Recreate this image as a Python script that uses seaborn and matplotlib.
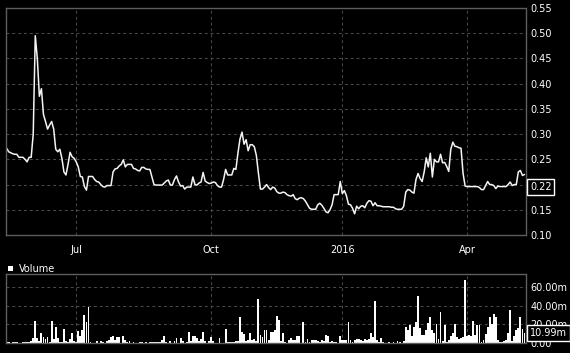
import numpy as np
import pandas as pd
import seaborn as sns
import matplotlib.pyplot as plt
import matplotlib.transforms as mtransforms
from matplotlib.patches import Rectangle

# trading calendar (ASX holidays skipped)
holidays = ['2015-06-08', '2015-12-25', '2015-12-28', '2016-01-01',
            '2016-01-26', '2016-03-25', '2016-03-28', '2016-04-25']
dates = pd.bdate_range('2015-05-13', '2016-05-12', freq='C', holidays=holidays)

# daily close
price = [
    0.272, 0.265, 0.263, 0.261, 0.26, 0.26, 0.254, 0.254, 0.254, 0.25, 0.245, 0.254, 0.254,
    0.30, 0.495, 0.45, 0.375, 0.39, 0.339, 0.325, 0.31, 0.318, 0.325, 0.31, 0.27, 0.265,
    0.27, 0.252, 0.225, 0.219, 0.24, 0.264, 0.255, 0.252, 0.245, 0.235, 0.216, 0.215, 0.196,
    0.189, 0.216, 0.216, 0.216, 0.21, 0.206, 0.205, 0.20, 0.196, 0.195, 0.198, 0.198, 0.198,
    0.225, 0.231, 0.232, 0.237, 0.24, 0.249, 0.235, 0.24, 0.24, 0.24, 0.232, 0.231, 0.228,
    0.227, 0.234, 0.234, 0.231, 0.23, 0.23, 0.215, 0.20, 0.199, 0.199, 0.199, 0.199, 0.203,
    0.207, 0.209, 0.199, 0.199, 0.21, 0.217, 0.205, 0.197, 0.198, 0.191, 0.195, 0.195, 0.195,
    0.215, 0.20, 0.199, 0.203, 0.205, 0.224, 0.207, 0.204, 0.202, 0.203, 0.205, 0.204, 0.198,
    0.195, 0.195, 0.21, 0.23, 0.219, 0.219, 0.219, 0.232, 0.23, 0.262, 0.29, 0.304, 0.28,
    0.289, 0.267, 0.279, 0.279, 0.275, 0.258, 0.223, 0.191, 0.191, 0.195, 0.20, 0.194, 0.19,
    0.195, 0.193, 0.186, 0.183, 0.183, 0.185, 0.184, 0.18, 0.178, 0.177, 0.18, 0.172, 0.17,
    0.173, 0.174, 0.172, 0.167, 0.16, 0.153, 0.151, 0.151, 0.151, 0.16, 0.163, 0.159, 0.153,
    0.146, 0.144, 0.15, 0.16, 0.18, 0.18, 0.18, 0.206, 0.182, 0.188, 0.178, 0.161, 0.16,
    0.153, 0.142, 0.157, 0.152, 0.157, 0.158, 0.154, 0.163, 0.168, 0.167, 0.158, 0.164, 0.158,
    0.158, 0.157, 0.156, 0.156, 0.156, 0.156, 0.155, 0.155, 0.152, 0.151, 0.151, 0.151, 0.157,
    0.185, 0.19, 0.189, 0.185, 0.183, 0.21, 0.222, 0.212, 0.206, 0.225, 0.253, 0.235, 0.262,
    0.215, 0.25, 0.245, 0.245, 0.26, 0.243, 0.244, 0.236, 0.226, 0.27, 0.284, 0.276, 0.275,
    0.273, 0.272, 0.222, 0.197, 0.196, 0.196, 0.196, 0.196, 0.196, 0.196, 0.194, 0.19, 0.19,
    0.198, 0.206, 0.20, 0.20, 0.198, 0.192, 0.197, 0.196, 0.196, 0.196, 0.196, 0.20, 0.205,
    0.198, 0.20, 0.20, 0.225, 0.228, 0.218, 0.22,
]

# daily volume, millions
volume = [
    1.0, 0.8, 0.3, 1.0, 1.0, 1.0, 0.5, 0.3, 1.0, 1.0, 1.0, 1.0, 2.0,
    5, 24, 5, 2, 11, 6, 4, 6, 1, 23.5, 4, 17, 5,
    1.5, 1, 15, 2.5, 1.5, 4.5, 11, 2.5, 1.5, 12.5, 8, 13.5, 30.5,
    22.5, 38.5, 0.8, 0.5, 0.3, 2, 0.5, 2, 1, 0.3, 2, 3, 6,
    8, 3.5, 6.5, 6.5, 0.5, 7, 3, 1, 2, 0.3, 1.5, 0.3, 0.3,
    1.5, 1, 0.2, 0.8, 0.5, 1, 1, 1.5, 1.5, 1.5, 1.5, 3, 7,
    1.5, 0.3, 2, 0.3, 2.5, 5, 0.5, 5, 2, 0.5, 1, 12, 2,
    8, 7, 5, 2.5, 4, 12, 2, 0.3, 2.5, 6.5, 2, 0.5, 0.3,
    5, 0.3, 0.5, 15, 1, 1.5, 1, 1, 2, 2.5, 28, 11.5, 9.5,
    2.5, 3, 11, 3, 4.5, 2.5, 47, 9, 6, 14, 14, 3, 12,
    12, 13.5, 28.5, 25, 2, 11, 1, 0.3, 3, 5.7, 3, 3.5, 7,
    7, 0.5, 22.5, 1, 4.6, 1, 3, 3, 3, 2, 1, 3, 2,
    9, 8, 1, 2, 1, 1, 0.3, 8, 3.5, 3, 3, 22.5, 2.9,
    1.5, 3.5, 4.6, 4.6, 2.9, 1.8, 4.6, 3, 4.8, 10.7, 6.4, 44.6, 2.9,
    1, 5, 1, 0.5, 0.3, 1, 0.5, 1.5, 0.5, 2, 1, 0.5, 2.5,
    17, 14, 19, 7, 17, 23, 50, 16, 9, 9, 13.5, 21, 28,
    13.5, 11, 20.7, 4, 33, 2, 19, 1, 3, 8, 11, 20.7, 6,
    4.5, 5, 6.5, 68, 8, 9, 8, 24, 8.5, 19, 19, 1, 3,
    10, 17, 28, 20.7, 30.7, 28, 3, 1, 1, 2, 3, 10.7, 35,
    2, 7, 13.5, 16, 28, 15, 10.99,
]

quarter_labels = {7: 'Jul', 10: 'Oct', 1: '2016', 4: 'Apr'}
price_ticks = [0.10, 0.15, 0.20, 0.25, 0.30, 0.35, 0.40, 0.45, 0.50, 0.55]
volume_ticks = [0, 20, 40, 60]
volume_tick_labels = ['0.00', '20.00m', '40.00m', '60.00m']
last_price = '0.22'
last_volume = 10.99

n = min(len(dates), len(price), len(volume))
df = pd.DataFrame({'day': np.arange(n), 'date': dates[:n],
                   'price': price[:n], 'volume': volume[:n]})

sns.set_theme(style='dark', rc={
    'figure.facecolor': 'black', 'axes.facecolor': 'black',
    'axes.edgecolor': '#5e5e5e', 'axes.linewidth': 1.0,
    'text.color': 'white', 'xtick.color': '#9a9a9a', 'ytick.color': '#9a9a9a',
    'xtick.labelcolor': 'white', 'ytick.labelcolor': 'white',
    'grid.color': '#4c4c4c',
})
plt.rcParams['font.family'] = ['DejaVu Sans']

W, H = 570, 353
fig = plt.figure(figsize=(W / 100, H / 100), dpi=100)
ax = fig.add_axes([6 / W, 118 / H, 519.5 / W, 227 / H])
axv = fig.add_axes([6 / W, 10 / H, 519.5 / W, 69 / H])

# price line
sns.lineplot(data=df, x='day', y='price', ax=ax, color='#f4f4f4', linewidth=1.1)

# volume bars
sns.barplot(data=df, x='day', y='volume', ax=axv, native_scale=True,
            color='white', saturation=1, width=0.9, errorbar=None, linewidth=0)

# month ticks
firsts = df.groupby(df['date'].dt.to_period('M'))['day'].first()
major_pos = [d for p, d in firsts.items() if p.month in quarter_labels]
major_lab = [quarter_labels[p.month] for p, d in firsts.items() if p.month in quarter_labels]
minor_pos = [d for p, d in firsts.items() if p.month not in quarter_labels]

for a in (ax, axv):
    a.set_xlim(-0.3, n - 0.5)
    a.set_xlabel('')
    a.set_ylabel('')
    a.yaxis.tick_right()
    a.grid(True, which='major', linestyle=(0, (3, 3)), linewidth=0.7)

ax.set_ylim(0.10, 0.55)
ax.set_yticks(price_ticks, [f'{v:.2f}' for v in price_ticks])
ax.set_xticks(major_pos, major_lab)
ax.set_xticks(minor_pos, minor=True)
ax.tick_params(axis='y', length=0, pad=3.3, labelsize=7)
ax.tick_params(axis='x', which='major', length=4, width=1, pad=3, labelsize=7)
ax.tick_params(axis='x', which='minor', length=2.5, width=1)

axv.set_ylim(0, 74)
axv.set_yticks(volume_ticks, volume_tick_labels)
axv.set_xticks(major_pos, [''] * len(major_pos))
axv.tick_params(axis='y', length=0, pad=3.3, labelsize=7)
axv.tick_params(axis='x', length=0)

# last value boxes
box = dict(boxstyle='square,pad=0.3', fc='black', ec='white', lw=1)
ax.text(1.0085, (235 - 187) / 227, last_price, transform=ax.transAxes,
        ha='left', va='center', fontsize=7, color='white', bbox=box)
trans = mtransforms.blended_transform_factory(axv.transAxes, axv.transData)
axv.text(1.0085, last_volume, f'{last_volume:.2f}m', transform=trans,
         ha='left', va='center', fontsize=7, color='white', bbox=box)

# volume legend
fig.patches.append(Rectangle((8 / W, (353 - 271) / H), 5 / W, 5 / H,
                             transform=fig.transFigure, fc='white', ec='none'))
fig.text(19 / W, (353 - 268.5) / H, 'Volume', ha='left', va='center',
         fontsize=7, color='white')

fig.savefig('out.png', dpi=100, facecolor='black')
plt.close(fig)
